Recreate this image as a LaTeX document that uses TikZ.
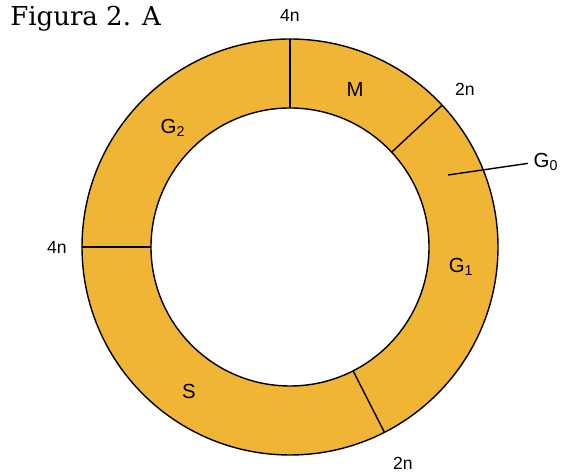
\documentclass[tikz,border=0pt]{standalone}
\usepackage{fontspec}
\setsansfont{Liberation Sans}
\newfontfamily\titulofont{DejaVu Serif}
\usepackage{xcolor}
\usepackage{tikz}
\usetikzlibrary{
  arrows.meta,
  positioning,
  calc
}
\definecolor{anel}{RGB}{240,181,52}
\tikzset{
  fase/.style={font=\sffamily\fontsize{14.5}{16}\selectfont, inner sep=1pt},
  ploidia/.style={font=\sffamily\fontsize{12.5}{14}\selectfont, inner sep=1pt},
  divisor/.style={draw=black, line width=1pt}
}

\begin{document}
\begin{tikzpicture}[x=0.025cm, y=0.025cm]
    \useasboundingbox (0,0) rectangle (562,473);
    \coordinate (c) at (290,226);

    % Titulo
    \node[anchor=base west, inner sep=0pt, font=\titulofont\fontsize{18.5}{22}\selectfont] (titulo) at (10,447) {Figura 2. A};

    % Anel do ciclo celular
    \fill[anel, even odd rule] (c) circle (208) (c) circle (139);
    \draw[line width=1pt] (c) circle (208);
    \draw[line width=1pt] (c) circle (139);

    % Divisoes entre as fases
    \foreach \ang in {90,180,43,-63}
        \draw[divisor] ([shift={(\ang:139)}]c) -- ([shift={(\ang:208)}]c);

    % Fases
    \node[fase] (M) at (355,384) {M};
    \node[fase] (G2) at (173,345) {G\textsubscript{2}};
    \node[fase] (G1) at (461,206) {G\textsubscript{1}};
    \node[fase] (S) at (189,82) {S};
    \node[fase, anchor=west] (G0) at (532,311) {G\textsubscript{0}};
    \coordinate (g0p) at (448,298);
    \draw[line width=1pt] (g0p) -- ([xshift=-3pt, yshift=-1pt]G0.west);

    % Quantidade de DNA
    \node[ploidia] (n4a) at (290,458) {4n};
    \node[ploidia] (n2a) at (465,384) {2n};
    \node[ploidia] (n4b) at (57,226) {4n};
    \node[ploidia] (n2b) at (403,10) {2n};
\end{tikzpicture}
\end{document}
